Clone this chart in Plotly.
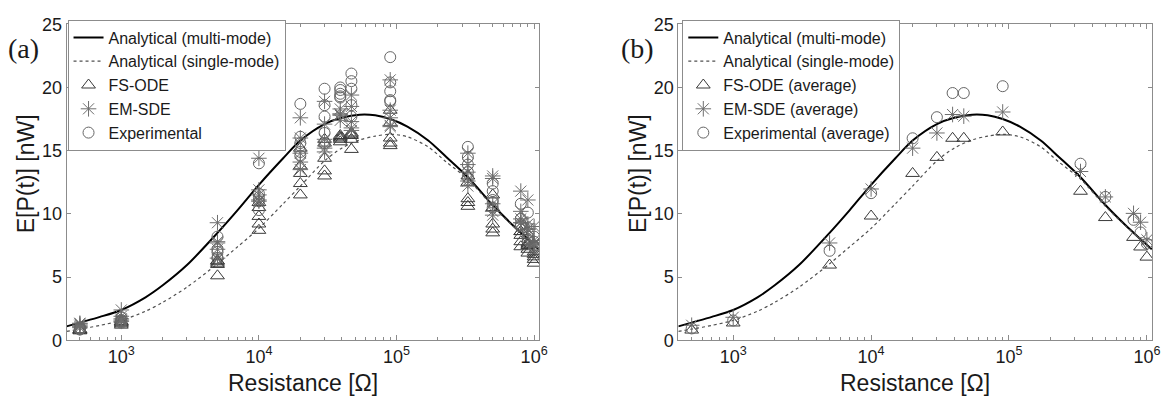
import plotly.graph_objects as go
import numpy as np

# ---------------- data ----------------
# analytical curves
R_curve = [400, 500, 700, 1000, 1500, 2000, 3000, 5000, 7000, 1e4, 1.5e4, 2e4, 3e4, 4e4,
           5.4e4, 7e4, 9e4, 1.2e5, 1.7e5, 2.3e5, 3.3e5, 5e5, 7e5, 8.8e5, 1.085e6]
multi_mode = [1.1, 1.4, 1.85, 2.4, 3.4, 4.35, 5.95, 8.5, 10.3, 12.3, 14.4, 15.8, 17.1, 17.6,
              17.85, 17.8, 17.5, 16.9, 15.8, 14.5, 12.9, 10.7, 9.1, 8.1, 7.2]
single_mode = [0.7, 0.88, 1.18, 1.57, 2.3, 3.0, 4.2, 6.05, 7.4, 8.85, 10.8, 12.2, 14.2, 15.2,
               15.85, 16.15, 16.3, 16.1, 15.3, 14.1, 12.75, 10.6, 9.05, 8.05, 7.15]

# resistances used in the experiments
R_exp = [500, 1000, 5000, 1e4, 2e4, 3e4, 3.9e4, 4.7e4, 9e4, 3.3e5, 5e5, 8e5, 9e5, 1e6]

# panel (a): individual trials (5 per resistance)
fs_ode_trials = [
    [0.80, 0.75, 0.85, 0.80, 0.85], [1.20, 1.40, 1.30, 1.50, 1.45], [5.10, 6.10, 6.00, 6.30, 6.25],
    [8.70, 9.20, 9.80, 10.50, 10.90], [11.50, 12.40, 13.20, 13.80, 15.20], [13.00, 13.40, 14.40, 15.60, 15.90],
    [15.70, 15.90, 16.10, 16.00, 16.20], [15.10, 15.90, 16.20, 16.40, 16.30], [15.40, 15.60, 16.00, 17.20, 18.20],
    [10.60, 10.90, 11.20, 12.50, 13.00], [8.50, 8.80, 9.20, 10.50, 11.50], [7.40, 7.80, 8.30, 8.60, 8.60],
    [6.90, 7.20, 7.50, 7.60, 7.70], [6.10, 6.40, 6.60, 6.80, 7.00]]
em_sde_trials = [
    [1.20, 1.00, 1.30, 1.10, 1.35], [1.60, 1.90, 2.40, 1.50, 1.70], [9.30, 7.20, 7.80, 6.50, 7.70],
    [14.40, 11.90, 11.50, 11.00, 11.10], [17.60, 16.00, 14.80, 14.10, 13.50], [18.90, 17.10, 15.90, 15.20, 14.90],
    [17.90, 17.40, 18.30, 17.90, 17.80], [19.40, 18.50, 17.30, 16.80, 16.60], [20.60, 18.20, 17.60, 17.00, 16.90],
    [14.80, 13.90, 13.30, 12.60, 12.20], [13.00, 12.80, 10.80, 10.20, 9.90], [11.80, 10.20, 9.60, 9.30, 9.30],
    [11.10, 9.20, 8.80, 8.80, 8.80], [9.00, 7.90, 7.60, 7.70, 7.60]]
experimental_trials = [
    [0.90, 1.00, 0.85, 0.95, 1.00], [1.40, 1.60, 1.80, 1.50, 1.55], [8.20, 7.00, 6.50, 7.20, 6.50],
    [14.00, 11.60, 11.30, 10.30, 11.00], [18.70, 16.10, 15.60, 14.90, 14.60], [19.90, 18.60, 17.70, 16.40, 15.60],
    [20.00, 19.80, 19.50, 19.20, 19.30], [21.10, 20.50, 19.90, 18.60, 17.70], [22.40, 20.40, 19.70, 19.00, 18.90],
    [15.30, 14.50, 13.90, 13.30, 12.90], [12.40, 11.10, 10.90, 10.50, 11.80], [10.80, 9.60, 9.20, 9.00, 9.10],
    [10.10, 8.50, 8.20, 8.00, 7.90], [8.20, 7.80, 7.50, 7.40, 7.30]]

# panel (b): averages
fs_ode_avg = [0.81, 1.37, 5.95, 9.83, 13.2, 14.47, 15.98, 15.98, 16.48, 11.79, 9.71, 8.14, 7.38, 6.58]
em_sde_avg = [1.19, 1.82, 7.7, 11.97, 15.2, 16.4, 17.86, 17.73, 18.06, 13.35, 11.34, 10.04, 9.34, 7.95]
experimental_avg = [0.94, 1.57, 7.08, 11.64, 15.98, 17.65, 19.56, 19.56, 20.1, 13.97, 11.34, 9.53, 8.53, 7.65]

yticks = [0, 5, 10, 15, 20, 25]
xticks_exp = [3, 4, 5, 6]

# ---------------- style ----------------
W, H = 1169, 404
AX = "#8c8c8c"
TXT = "#1a1a1a"
FONT = "Liberation Sans, Arial, sans-serif"
C_TRI = "#3a3a3a"
C_STAR = "#6e6e6e"
C_CIRC = "#666666"


def flat(trials):
    xs, ys = [], []
    for r, vals in zip(R_exp, trials):
        for v in vals:
            xs.append(r)
            ys.append(v)
    return xs, ys


fig = go.Figure()

panels = [
    ("x", "y", "legend", "", fs_ode_trials, em_sde_trials, experimental_trials, False),
    ("x2", "y2", "legend2", " (average)", fs_ode_avg, em_sde_avg, experimental_avg, True),
]

for xa, ya, lg, sfx, fs, em, ex, is_avg in panels:
    fig.add_trace(go.Scatter(x=R_curve, y=multi_mode, mode="lines", xaxis=xa, yaxis=ya, legend=lg,
                             line=dict(color="black", width=2, shape="spline", smoothing=0.8),
                             name="Analytical (multi-mode)"))
    fig.add_trace(go.Scatter(x=R_curve, y=single_mode, mode="lines", xaxis=xa, yaxis=ya, legend=lg,
                             line=dict(color="#505050", width=1.2, dash="dot", shape="spline", smoothing=0.8),
                             name="Analytical (single-mode)"))
    if is_avg:
        fx, fy = R_exp, fs
        sx, sy = R_exp, em
        cx, cy = R_exp, ex
    else:
        fx, fy = flat(fs)
        sx, sy = flat(em)
        cx, cy = flat(ex)
    fig.add_trace(go.Scatter(x=fx, y=fy, mode="markers", xaxis=xa, yaxis=ya, legend=lg,
                             marker=dict(symbol="triangle-up-open", size=12, color=C_TRI, line=dict(width=1)),
                             name="FS-ODE" + sfx))
    fig.add_trace(go.Scatter(x=sx, y=sy, mode="markers", xaxis=xa, yaxis=ya, legend=lg,
                             marker=dict(symbol="asterisk-open", size=13, color=C_STAR, line=dict(width=1, color=C_STAR)),
                             name="EM-SDE" + sfx))
    fig.add_trace(go.Scatter(x=cx, y=cy, mode="markers", xaxis=xa, yaxis=ya, legend=lg,
                             marker=dict(symbol="circle-open", size=11, color=C_CIRC, line=dict(width=1)),
                             name="Experimental" + sfx))

xrange_log = [np.log10(400), np.log10(1.09e6)]


def xaxis_cfg(dom):
    return dict(domain=dom, type="log", range=xrange_log, showline=True, linecolor=AX, linewidth=1,
                mirror="allticks", ticks="inside", ticklen=5, tickcolor=AX,
                tickvals=[10 ** e for e in xticks_exp],
                ticktext=["10<sup>%d</sup>" % e for e in xticks_exp],
                minor=dict(ticks="inside", ticklen=3, tickcolor=AX, dtick="D1", showgrid=False),
                showgrid=False, zeroline=False,
                tickfont=dict(family=FONT, size=18, color=TXT))


def yaxis_cfg(anchor):
    return dict(domain=[56.5 / H, 1 - 15 / H], anchor=anchor, range=[0, 25], tickvals=yticks,
                showline=True, linecolor=AX, linewidth=1, mirror="allticks", ticks="inside",
                ticklen=4, tickcolor=AX, showgrid=False, zeroline=False,
                tickfont=dict(family=FONT, size=18, color=TXT))


xa_dom = [67 / W, 543 / W]
xb_dom = [683 / W, 1160 / W]

LEG_FONT = dict(family=FONT, size=16, color=TXT)
fig.update_layout(
    width=W, height=H, margin=dict(l=0, r=0, t=0, b=0),
    paper_bgcolor="white", plot_bgcolor="white",
    xaxis=dict(**xaxis_cfg(xa_dom), anchor="y"),
    yaxis=yaxis_cfg("x"),
    xaxis2=dict(**xaxis_cfg(xb_dom), anchor="y2"),
    yaxis2=yaxis_cfg("x2"),
    legend=dict(x=68 / W, y=1 - 10 / H, xanchor="left", yanchor="top", bgcolor="white",
                bordercolor=AX, borderwidth=1, font=LEG_FONT, tracegroupgap=0, itemwidth=30),
    legend2=dict(x=687 / W, y=1 - 10 / H, xanchor="left", yanchor="top", bgcolor="white",
                 bordercolor=AX, borderwidth=1, font=LEG_FONT, tracegroupgap=0, itemwidth=30),
    showlegend=True,
)

SERIF = "Liberation Serif, Times New Roman, serif"
annots = [
    dict(text="(a)", x=6 / W, y=1 - 40 / H, xanchor="left", yanchor="middle",
         font=dict(family=SERIF, size=28, color=TXT)),
    dict(text="(b)", x=623 / W, y=1 - 40 / H, xanchor="left", yanchor="middle",
         font=dict(family=SERIF, size=28, color=TXT)),
    dict(text="Resistance [Ω]", x=305 / W, y=1 - 392 / H, xanchor="center", yanchor="middle",
         font=dict(family=FONT, size=23, color=TXT)),
    dict(text="Resistance [Ω]", x=921 / W, y=1 - 392 / H, xanchor="center", yanchor="middle",
         font=dict(family=FONT, size=23, color=TXT)),
    dict(text="E[P(t)] [nW]", x=27 / W, y=1 - 172 / H, xanchor="center", yanchor="middle",
         textangle=-90, font=dict(family=FONT, size=23, color=TXT)),
    dict(text="E[P(t)] [nW]", x=643 / W, y=1 - 172 / H, xanchor="center", yanchor="middle",
         textangle=-90, font=dict(family=FONT, size=23, color=TXT)),
]
for a in annots:
    a.update(xref="paper", yref="paper", showarrow=False)
fig.update_layout(annotations=annots)

fig.write_html("out.html")
